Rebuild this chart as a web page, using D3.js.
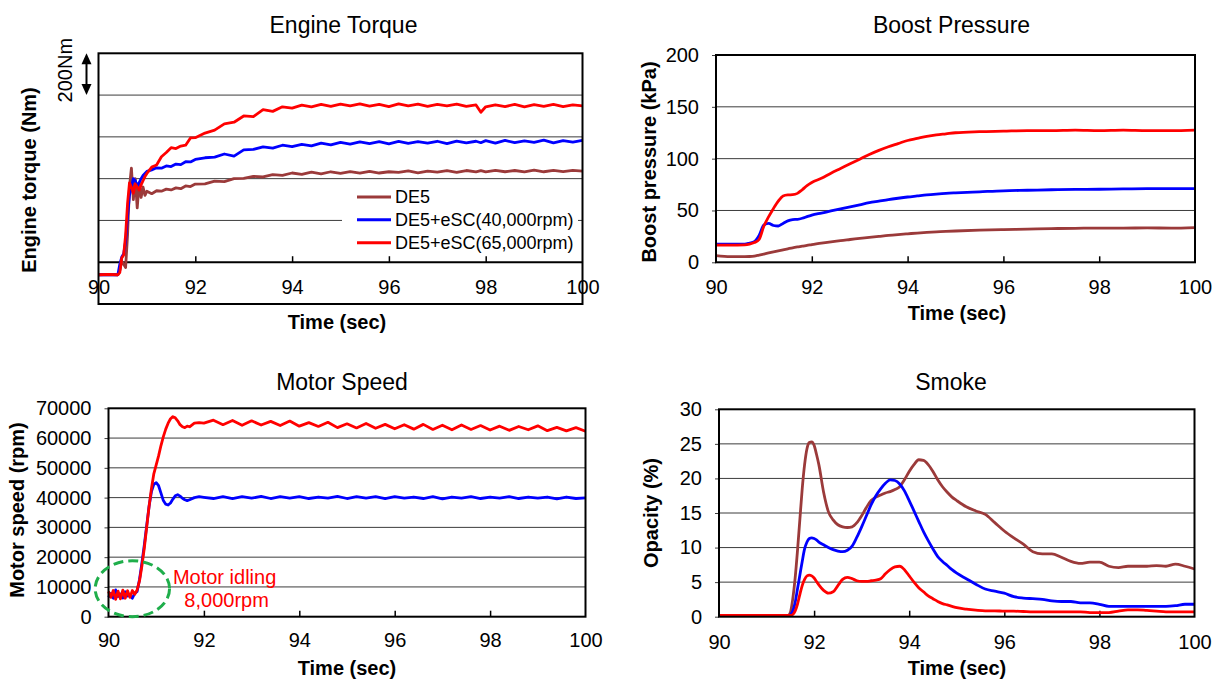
<!DOCTYPE html>
<html>
<head>
<meta charset="utf-8">
<script src="https://cdn.jsdelivr.net/npm/d3@7"></script>
<style>
  html, body { margin: 0; padding: 0; background: #fff; }
  svg { display: block; font-family: "Liberation Sans", Arial, sans-serif; }
</style>
</head>
<body>
<svg id="chart" width="1212" height="679"></svg>
<script>
// ---------------- data ----------------
const seriesNames  = ["DE5", "DE5+eSC(40,000rpm)", "DE5+eSC(65,000rpm)"];
const seriesColors = ["#9b3a3a", "#0000ff", "#ff0000"];
const timeTicks = [90, 92, 94, 96, 98, 100];

// Engine torque (Nm)
const torqueTime = [90, 90.2, 90.4, 90.44, 90.48, 90.52, 90.56, 90.6, 90.64, 90.68, 90.72, 90.76, 90.8, 90.84,
  90.88, 90.92, 90.96, 91.0, 91.1, 91.2, 91.3, 91.4, 91.5, 91.6, 91.7, 91.8, 91.9, 92.0,
  92.2, 92.4, 92.6, 92.8, 93.0, 93.2, 93.4, 93.6, 93.8, 94.0, 94.2, 94.4, 94.6, 94.8, 95.0,
  95.2, 95.4, 95.6, 95.8, 96.0, 96.2, 96.4, 96.6, 96.8, 97.0, 97.2, 97.4, 97.6, 97.8, 97.9,
  98.0, 98.2, 98.4, 98.6, 98.8, 99.0, 99.2, 99.4, 99.6, 99.8, 100];
const torqueDE5 = [140, 141, 140, 160, 205, 190, 175, 330, 560, 650, 500, 600, 460, 580,
  510, 560, 520, 540, 528, 542, 540, 550, 546, 556, 552, 565, 562, 574,
  575, 588, 586, 600, 601, 611, 608, 619, 616, 627, 620, 631, 623, 633, 625,
  634, 626, 635, 627, 633, 630, 637, 628, 636, 631, 638, 630, 639, 632, 638,
  632, 640, 633, 639, 632, 641, 633, 640, 634, 640, 636];
const torqueEsc40 = [140, 141, 140, 190, 225, 240, 300, 420, 520, 560, 600, 590, 565, 580,
  600, 615, 625, 635, 642, 652, 650, 661, 658, 670, 667, 681, 680, 692,
  700, 703, 718, 708, 738, 740, 752, 746, 760, 753, 764, 757, 770, 762, 774,
  765, 776, 768, 777, 766, 778, 769, 777, 770, 779, 768, 780, 771, 779, 772,
  782, 770, 783, 772, 781, 774, 784, 771, 782, 775, 783];
const torqueEsc65 = [140, 142, 140, 150, 220, 235, 330, 480, 580, 560, 530, 575, 560, 545,
  570, 590, 610, 625, 655, 665, 705, 725, 748, 744, 756, 760, 795, 796,
  818, 832, 862, 870, 900, 897, 930, 922, 944, 938, 952, 944, 956, 946, 957,
  948, 958, 947, 956, 945, 958, 948, 957, 946, 956, 948, 957, 946, 953, 918,
  944, 953, 945, 955, 944, 954, 946, 955, 945, 953, 948];

// Boost pressure (kPa)
const boostTime = [90, 90.3, 90.6, 90.7, 90.8, 90.9, 91.0, 91.1, 91.2, 91.3, 91.4, 91.5, 91.6, 91.7,
  91.8, 91.9, 92.0, 92.2, 92.4, 92.6, 92.8, 93.0, 93.2, 93.4, 93.6, 93.8, 94.0, 94.2, 94.4,
  94.6, 94.8, 95.0, 95.5, 96.0, 96.5, 97.0, 97.5, 98.0, 98.5, 99.0, 99.5, 100];
const boostDE5 = [6.5, 5.5, 5.5, 5.6, 6, 7, 8, 9, 10, 11, 12, 13, 14, 14.8,
  15.5, 16.3, 17, 18.5, 19.8, 21, 22, 23, 24, 25, 26, 26.8, 27.5, 28.2, 28.8,
  29.3, 29.8, 30.2, 31, 31.5, 32, 32.5, 32.8, 33, 33, 33.2, 33, 33.5];
const boostEsc40 = [17.5, 17.5, 17.5, 18.5, 20, 26, 36, 37.5, 35.5, 35, 37.5, 40, 41.2, 41.5,
  42.5, 44, 45.5, 47.5, 49.5, 51.5, 53.5, 55.5, 57.5, 59, 60.5, 61.8, 63, 64, 65,
  65.8, 66.5, 67, 68, 69, 69.5, 70, 70.3, 70.5, 70.8, 71, 71, 71];
const boostEsc65 = [16.5, 16.5, 16.8, 17.5, 19, 22, 35, 44, 52, 59, 64, 65, 65.2, 66.5,
  70, 74, 77, 81, 86, 90.5, 95, 99.5, 104, 108, 111.5, 114.5, 117.5, 119.5, 121.5,
  123, 124, 125, 126, 126.5, 127, 127, 127.5, 127, 127.5, 127, 127, 127.5];

// Motor speed (rpm)
const motorTime = [90, 90.05, 90.1, 90.15, 90.2, 90.25, 90.3, 90.35, 90.4, 90.45, 90.5, 90.55, 90.6,
  90.65, 90.7, 90.75, 90.8, 90.85, 90.9, 90.95, 91.0, 91.05, 91.1, 91.15, 91.2, 91.25,
  91.3, 91.35, 91.4, 91.45, 91.5, 91.55, 91.6, 91.65, 91.7, 91.8, 91.9, 92.0,
  92.2, 92.4, 92.6, 92.8, 93.0, 93.2, 93.4, 93.6, 93.8, 94.0,
  94.2, 94.4, 94.6, 94.8, 95.0, 95.2, 95.4, 95.6, 95.8, 96.0,
  96.2, 96.4, 96.6, 96.8, 97.0, 97.2, 97.4, 97.6, 97.8, 98.0,
  98.2, 98.4, 98.6, 98.8, 99.0, 99.2, 99.4, 99.6, 99.8, 100];
const motorEsc40 = [6500, 7800, 6200, 9000, 6800, 7600, 6300, 8400, 6900, 7400, 6200, 7800, 8500,
  12500, 18000, 24000, 30500, 37000, 42000, 44500, 45000, 44000, 41500, 39000, 37800, 37500,
  38200, 39500, 40600, 41000, 40500, 39800, 39300, 39000, 39300, 40000, 40300, 40100,
  39700, 40300, 39700, 40300, 39800, 40400, 39700, 40300, 39800, 40300,
  39700, 40200, 39800, 40400, 39700, 40300, 39800, 40300, 39700, 40300,
  39800, 40200, 39700, 40300, 39600, 40200, 39800, 40300, 39700, 40200,
  39800, 40300, 39700, 40200, 39800, 40200, 39600, 40200, 39700, 39900];
const motorEsc65 = [8500, 6500, 8800, 5800, 8600, 6000, 8900, 6200, 8700, 6500, 8800, 7500, 9000,
  12000, 17000, 23000, 30000, 37000, 43000, 48000, 51000, 54000, 57500, 60500, 63000, 65000,
  66500, 67200, 66800, 65800, 64500, 63800, 63500, 64000, 63800, 65000, 65200, 65000,
  66000, 64500, 65900, 64300, 65800, 64400, 65600, 64200, 65700, 64000,
  65200, 63900, 65300, 63500, 64800, 63400, 64900, 63300, 64600, 63100,
  64500, 63000, 64600, 62900, 64300, 62800, 64400, 62900, 64200, 62700,
  64000, 62600, 63900, 62800, 64100, 62500, 63600, 62400, 63500, 62300];

// Smoke opacity (%)
const smokeTime = [90, 91.0, 91.45, 91.5, 91.55, 91.6, 91.65, 91.7, 91.75, 91.8, 91.85, 91.9, 91.95,
  92.0, 92.05, 92.1,
  92.2, 92.3, 92.4, 92.5, 92.6, 92.7, 92.8, 92.9, 93.0, 93.1, 93.2, 93.3, 93.4, 93.5, 93.6,
  93.7, 93.8, 93.9, 94.0, 94.1, 94.2, 94.3, 94.4, 94.5, 94.6, 94.7, 94.8, 94.9, 95.0,
  95.2, 95.4, 95.6, 95.8, 96.0, 96.2, 96.4, 96.6, 96.8, 97.0, 97.2, 97.4, 97.6, 97.8,
  98.0, 98.2, 98.4, 98.6, 98.8, 99.0, 99.2, 99.4, 99.6, 99.8, 100];
const smokeDE5 = [0.2, 0.2, 0.2, 0.6, 2.5, 5.5, 9.5, 14, 18.5, 22, 24.3, 25.2, 25.3,
  24.8, 23.5, 22,
  18, 15.2, 14, 13.3, 13, 12.9, 13, 13.6, 14.6, 15.8, 16.8, 17.3, 17.6, 17.9, 18.1,
  18.4, 18.8, 19.8, 21, 22, 22.7, 22.6, 22, 21, 19.8, 18.8, 18, 17.3, 16.8,
  15.9, 15.3, 14.8, 13.6, 12.4, 11.4, 10.5, 9.4, 9.1, 9.1, 8.6, 8.0, 7.7, 7.9,
  7.9, 7.3, 7.1, 7.3, 7.3, 7.3, 7.4, 7.3, 7.6, 7.3, 6.9];
const smokeEsc40 = [0.2, 0.2, 0.2, 0.3, 0.8, 2, 4, 6, 8, 9.8, 10.8, 11.3, 11.4,
  11.3, 11.1, 10.8,
  10.4, 10, 9.7, 9.5, 9.4, 9.6, 10.2, 11.5, 13, 14.6, 16.2, 17.5, 18.5, 19.3, 19.8,
  19.7, 19.2, 18.2, 16.8, 15.3, 13.8, 12.3, 11, 9.8, 8.7, 8.0, 7.4, 6.8, 6.3,
  5.5, 4.7, 4.0, 3.7, 3.4, 2.9, 2.7, 2.6, 2.5, 2.3, 2.2, 2.2, 2.0, 2.0,
  1.8, 1.5, 1.5, 1.5, 1.5, 1.5, 1.5, 1.5, 1.6, 1.8, 1.8];
const smokeEsc65 = [0.2, 0.2, 0.2, 0.2, 0.3, 0.8, 1.8, 3.2, 4.5, 5.4, 5.9, 6.0, 5.9,
  5.6, 5.1, 4.6,
  3.8, 3.4, 3.6, 4.5, 5.4, 5.7, 5.5, 5.2, 5.1, 5.1, 5.2, 5.3, 5.5, 6.2, 6.8,
  7.2, 7.3, 6.8, 5.9, 5.0, 4.2, 3.6, 3.0, 2.6, 2.2, 1.9, 1.7, 1.5, 1.3,
  1.1, 0.95, 0.85, 0.85, 0.8, 0.8, 0.75, 0.7, 0.7, 0.7, 0.7, 0.7, 0.7, 0.6,
  0.6, 0.6, 0.8, 1.0, 1.0, 0.9, 0.8, 0.7, 0.7, 0.7, 0.7];

// ---------------- drawing ----------------
const svg = d3.select("#chart");
const GRID = "#3c3c3c";
const FONT = "Liberation Sans, Arial, sans-serif";

function drawPanel(p) {
  const g = svg.append("g");
  const x = d3.scaleLinear().domain([90, 100]).range([p.left, p.right]);
  const y = d3.scaleLinear().domain(p.yDomain).range([p.bottom, p.top]);

  // horizontal grid lines
  g.append("g").selectAll("line").data(p.grid).join("line")
    .attr("x1", p.left).attr("x2", p.right)
    .attr("y1", d => y(d)).attr("y2", d => y(d))
    .attr("stroke", GRID).attr("stroke-width", 1);

  // value axis labels
  if (p.yTicks) {
    const ya = g.append("g").attr("transform", `translate(${p.left},0)`)
      .call(d3.axisLeft(y).tickValues(p.yTicks).tickSize(4).tickPadding(13).tickFormat(d3.format("d")));
    ya.select(".domain").remove();
    ya.selectAll(".tick line").attr("stroke", GRID);
    ya.selectAll("text").attr("font-size", 20).attr("font-family", FONT).attr("fill", "#000");
  }

  // time axis: labels
  const xa = g.append("g").attr("transform", `translate(0,${p.labelY})`)
    .call(d3.axisBottom(x).tickValues(timeTicks).tickSize(0).tickPadding(0));
  xa.select(".domain").remove();
  xa.selectAll("text").attr("y", 0).attr("dy", "0.35em")
    .attr("font-size", 20).attr("font-family", FONT).attr("fill", "#000");

  // time axis: inner tick marks
  const axisY = y(p.axisAt);
  const xt = g.append("g").attr("transform", `translate(0,${axisY})`)
    .call(d3.axisTop(x).tickValues(timeTicks.slice(1, -1)).tickSize(6).tickFormat(""));
  xt.select(".domain").remove();
  xt.selectAll(".tick line").attr("stroke", "#000").attr("stroke-width", 1.5);

  if (p.axisAt !== p.yDomain[0]) {
    g.append("line").attr("x1", p.left).attr("x2", p.right)
      .attr("y1", axisY).attr("y2", axisY)
      .attr("stroke", "#000").attr("stroke-width", 2);
  }

  // data lines
  const lines = g.append("g");
  p.series.forEach((vals, k) => {
    const line = d3.line()
      .x((d, i) => x(p.time[i]))
      .y(d => y(d))
      .curve(p.smooth ? d3.curveMonotoneX : d3.curveLinear);
    lines.append("path").datum(vals)
      .attr("d", line)
      .attr("fill", "none")
      .attr("stroke", seriesColors[p.colorIdx[k]])
      .attr("stroke-width", 2.8)
      .attr("stroke-linejoin", "round");
  });

  // frame
  g.append("rect")
    .attr("x", p.left).attr("y", p.top)
    .attr("width", p.right - p.left).attr("height", p.bottom - p.top)
    .attr("fill", "none").attr("stroke", "#000").attr("stroke-width", 2);

  // titles
  g.append("text").attr("x", p.titleX).attr("y", p.titleY).attr("dy", "0.35em")
    .attr("text-anchor", "middle").attr("font-size", 23).text(p.title);
  g.append("text").attr("x", p.xTitleX).attr("y", p.xTitleY).attr("dy", "0.35em")
    .attr("text-anchor", "middle").attr("font-size", 20).attr("font-weight", "bold")
    .text("Time (sec)");
  g.append("text")
    .attr("transform", `translate(${p.yTitleX},${p.yTitleY}) rotate(-90)`)
    .attr("dy", "0.35em").attr("text-anchor", "middle")
    .attr("font-size", 20).attr("font-weight", "bold").text(p.yTitle);

  return { g, x, y };
}

// Engine torque
const tq = drawPanel({
  left: 98.5, right: 582.5, top: 53.3, bottom: 304,
  yDomain: [0, 1200], grid: [400, 600, 800, 1000], yTicks: null,
  axisAt: 200, labelY: 286.7,
  time: torqueTime, series: [torqueDE5, torqueEsc40, torqueEsc65], colorIdx: [0, 1, 2],
  title: "Engine Torque", titleX: 343.5, titleY: 25,
  xTitleX: 337, xTitleY: 321.7,
  yTitle: "Engine torque (Nm)", yTitleX: 28.7, yTitleY: 180
});

// 200 Nm scale marker
{
  const ax = tq.x(90) - 12;
  const yTop = tq.y(1200), yBot = tq.y(1000);
  tq.g.append("line").attr("x1", ax).attr("x2", ax).attr("y1", yTop + 8).attr("y2", yBot - 8)
    .attr("stroke", "#000").attr("stroke-width", 2);
  tq.g.append("path").attr("d", `M${ax - 5},${yTop + 11}L${ax},${yTop}L${ax + 5},${yTop + 11}Z`).attr("fill", "#000");
  tq.g.append("path").attr("d", `M${ax - 5},${yBot - 11}L${ax},${yBot}L${ax + 5},${yBot - 11}Z`).attr("fill", "#000");
  tq.g.append("text")
    .attr("transform", `translate(${ax - 22},${(yTop + yBot) / 2 - 4}) rotate(-90)`)
    .attr("dy", "0.35em").attr("text-anchor", "middle").attr("font-size", 20).text("200Nm");
}

// legend
{
  const lg = tq.g.append("g");
  lg.append("rect").attr("x", 342).attr("y", 186).attr("width", 236).attr("height", 70).attr("fill", "#fff");
  const rows = [197, 219.7, 242.7];
  seriesNames.forEach((name, i) => {
    lg.append("line").attr("x1", 357).attr("x2", 391).attr("y1", rows[i]).attr("y2", rows[i])
      .attr("stroke", seriesColors[i]).attr("stroke-width", 3);
    lg.append("text").attr("x", 395).attr("y", rows[i]).attr("dy", "0.35em")
      .attr("font-size", 18).text(name);
  });
}

// Boost pressure
drawPanel({
  left: 716, right: 1195, top: 55, bottom: 262.3,
  yDomain: [0, 200], grid: [50, 100, 150], yTicks: [0, 50, 100, 150, 200],
  axisAt: 0, labelY: 286.7,
  time: boostTime, series: [boostDE5, boostEsc40, boostEsc65], colorIdx: [0, 1, 2], smooth: true,
  title: "Boost Pressure", titleX: 951.5, titleY: 25,
  xTitleX: 957, xTitleY: 313.3,
  yTitle: "Boost pressure (kPa)", yTitleX: 648.8, yTitleY: 162
});

// Motor speed
const ms = drawPanel({
  left: 108.5, right: 585.5, top: 408.3, bottom: 616.7,
  yDomain: [0, 70000], grid: [10000, 20000, 30000, 40000, 50000, 60000],
  yTicks: [0, 10000, 20000, 30000, 40000, 50000, 60000, 70000],
  axisAt: 0, labelY: 640,
  time: motorTime, series: [motorEsc40, motorEsc65], colorIdx: [1, 2],
  title: "Motor Speed", titleX: 342, titleY: 381.7,
  xTitleX: 347, xTitleY: 668,
  yTitle: "Motor speed (rpm)", yTitleX: 17.2, yTitleY: 510
});

// idling annotation
{
  const cx = ms.x(90.5), cy = ms.y(9400);
  ms.g.append("ellipse").attr("cx", cx).attr("cy", cy)
    .attr("rx", ms.x(90.5 + 0.78) - cx).attr("ry", cy - ms.y(9400 + 9400))
    .attr("fill", "none").attr("stroke", "#1fae4b").attr("stroke-width", 3)
    .attr("stroke-dasharray", "10,5");
  ms.g.append("text").attr("x", ms.x(91.35)).attr("y", ms.y(13400)).attr("dy", "0.35em")
    .attr("font-size", 20).attr("fill", "#ff0000").text("Motor idling");
  ms.g.append("text").attr("x", ms.x(91.59)).attr("y", ms.y(5700)).attr("dy", "0.35em")
    .attr("font-size", 20).attr("fill", "#ff0000").text("8,000rpm");
}

// Smoke
drawPanel({
  left: 719, right: 1194.5, top: 409.3, bottom: 616.7,
  yDomain: [0, 30], grid: [5, 10, 15, 20, 25], yTicks: [0, 5, 10, 15, 20, 25, 30],
  axisAt: 0, labelY: 641.7,
  time: smokeTime, series: [smokeDE5, smokeEsc40, smokeEsc65], colorIdx: [0, 1, 2], smooth: true,
  title: "Smoke", titleX: 951, titleY: 381.7,
  xTitleX: 957, xTitleY: 668,
  yTitle: "Opacity (%)", yTitleX: 650.7, yTitleY: 513
});
</script>
</body>
</html>
